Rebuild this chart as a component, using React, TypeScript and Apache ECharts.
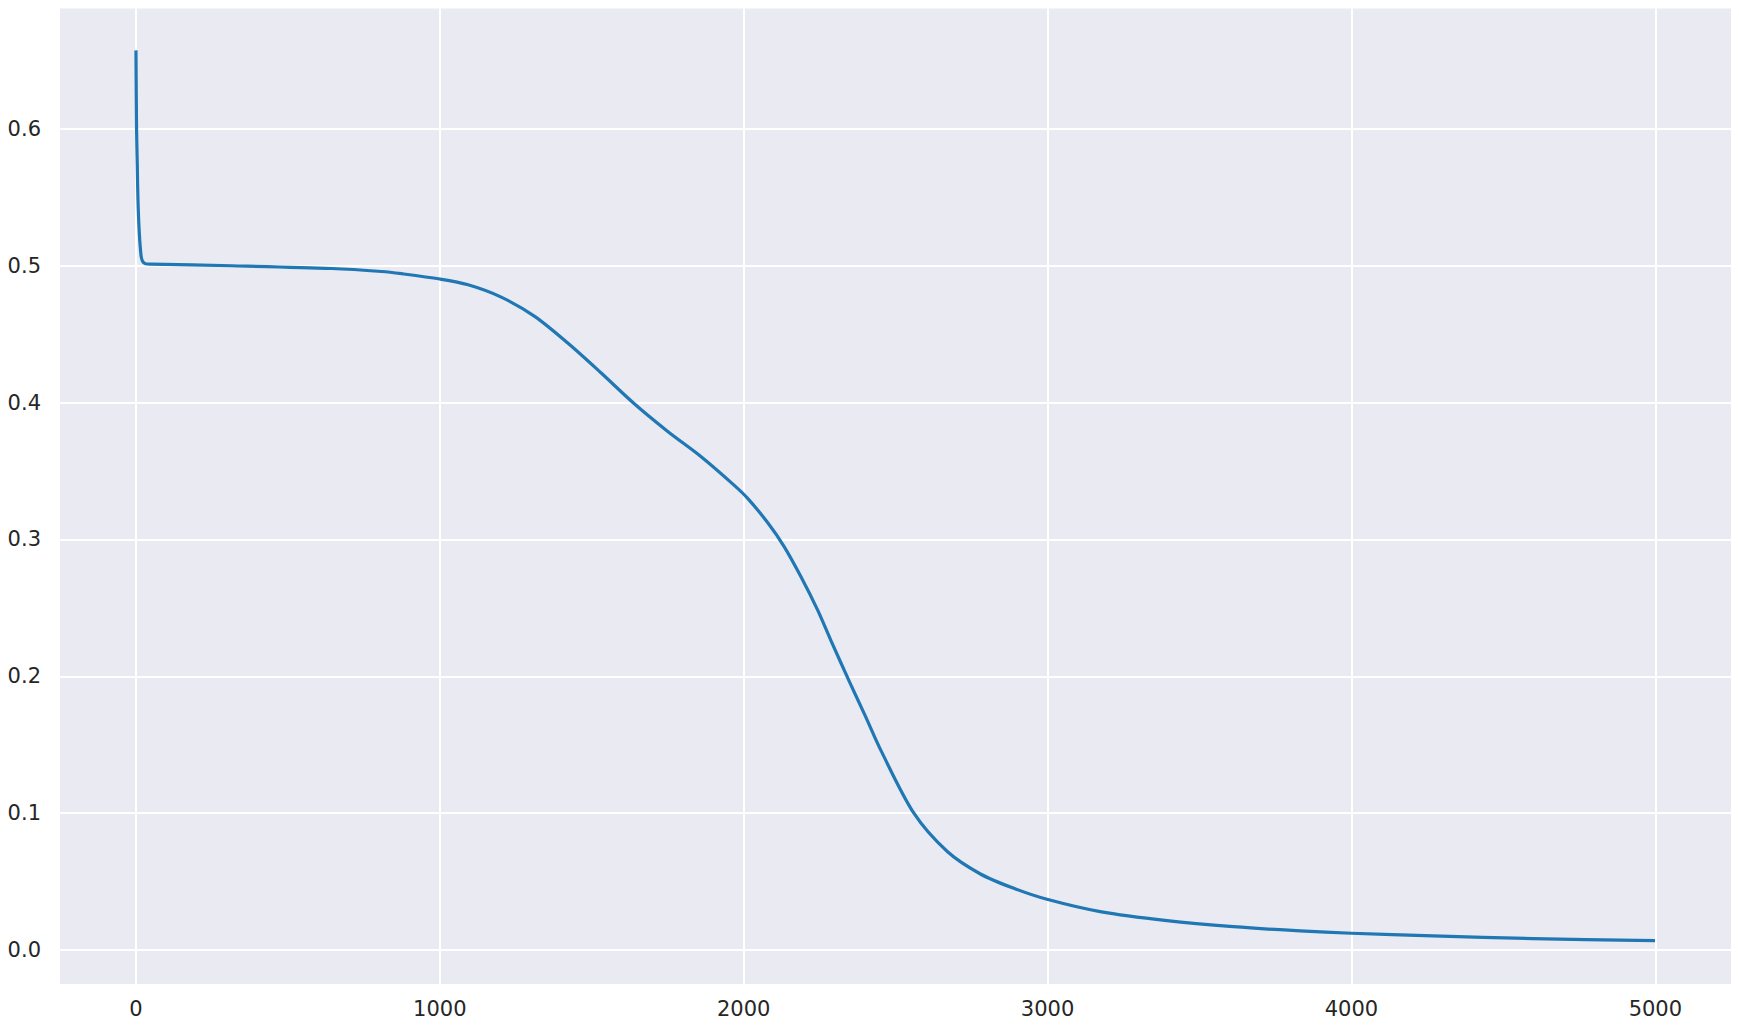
import React, { useEffect, useRef } from "react";
import * as echarts from "echarts";

// Training-loss style curve
const steps: number[] = [
  0, 2, 4.4, 6.6, 11, 17, 22, 31, 50, 315, 644, 808, 874, 1000, 1093, 1202,
  1312, 1421, 1531, 1640, 1750, 1859, 1969, 2013, 2078, 2133, 2188, 2243,
  2286, 2350, 2400, 2451, 2560, 2670, 2779, 2889, 2998, 3173, 3393, 3611,
  3831, 4000, 4268, 4597, 4999,
];
const losses: number[] = [
  0.6574, 0.6, 0.573, 0.548, 0.524, 0.507, 0.5032, 0.5015, 0.5012, 0.5, 0.498,
  0.4958, 0.4942, 0.4903, 0.4861, 0.4771, 0.463, 0.4435, 0.4216, 0.3991,
  0.3789, 0.3606, 0.3395, 0.33, 0.3125, 0.2948, 0.2729, 0.2485, 0.2266,
  0.195, 0.171, 0.146, 0.0999, 0.0719, 0.0555, 0.045, 0.037, 0.028, 0.0214,
  0.017, 0.0139, 0.0122, 0.0102, 0.0083, 0.0068,
];

const FONT = "DejaVu Sans";
const TEXT = "#262626";

export default function App() {
  const ref = useRef<HTMLDivElement>(null);
  useEffect(() => {
    if (!ref.current) return;
    const chart = echarts.init(ref.current, undefined, { renderer: "svg" });
    const data = steps.map((s, i) => [s, losses[i]]);
    const xSpan = steps[steps.length - 1] - steps[0];
    chart.setOption({
      animation: false,
      backgroundColor: "#ffffff",
      grid: { left: 60, right: 8, top: 8.5, bottom: 44, backgroundColor: "#EAEAF2", show: true, borderWidth: 0 },
      xAxis: {
        type: "value",
        min: steps[0] - 0.05 * xSpan,
        max: steps[steps.length - 1] + 0.05 * xSpan,
        splitNumber: 5,
        axisLine: { show: false },
        axisTick: { show: false },
        axisLabel: {
          showMinLabel: false,
          showMaxLabel: false,
          margin: 14,
          fontFamily: FONT,
          fontSize: 21,
          color: TEXT,
          formatter: (v: number) => String(Math.round(v)),
        },
        splitLine: { show: true, showMinLine: false, showMaxLine: false, lineStyle: { color: "#ffffff", width: 2 } },
      },
      yAxis: {
        type: "value",
        min: -0.0249,
        max: 0.688,
        splitNumber: 7,
        axisLine: { show: false },
        axisTick: { show: false },
        axisLabel: {
          showMinLabel: false,
          showMaxLabel: false,
          margin: 19,
          fontFamily: FONT,
          fontSize: 21,
          color: TEXT,
          formatter: (v: number) => v.toFixed(1),
        },
        splitLine: { show: true, showMinLine: false, showMaxLine: false, lineStyle: { color: "#ffffff", width: 2 } },
      },
      series: [
        {
          type: "line",
          data,
          showSymbol: false,
          smooth: 0.3,
          lineStyle: { color: "#1f77b4", width: 3.2, cap: "butt", join: "round" },
          z: 3,
        },
      ],
    });
    return () => chart.dispose();
  }, []);
  return (
    <div
      ref={ref}
      style={{ position: "fixed", left: 0, top: 0, width: "1739px", height: "1028px" }}
    />
  );
}
